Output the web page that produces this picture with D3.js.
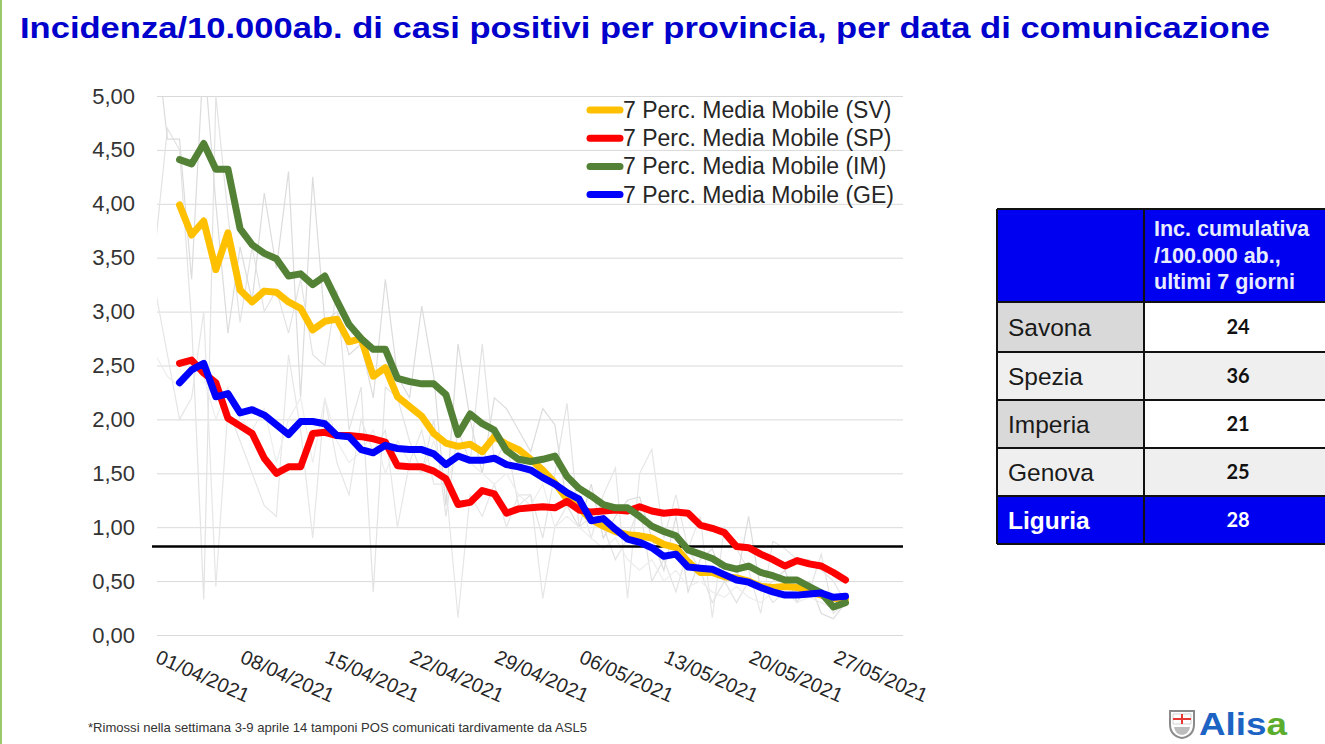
<!DOCTYPE html>
<html>
<head>
<meta charset="utf-8">
<script src="https://cdn.jsdelivr.net/npm/d3@7"></script>
<style>
  body { margin: 0; background: #fff; }
  #chart { width: 1325px; height: 744px; position: relative; overflow: hidden; }
  text { font-family: Arial, "Liberation Sans", sans-serif; }
</style>
</head>
<body>
<div id="chart"></div>
<script>
/* DATI */
const inizioMedie = new Date(2021, 3, 3);   // prima media mobile
const inizioGrezzi = new Date(2021, 3, 1);  // primo dato giornaliero

const mediaSV = [3.99,3.71,3.84,3.39,3.73,3.20,3.09,3.19,3.18,3.09,3.03,2.83,2.91,2.93,2.72,2.75,2.40,2.48,2.21,2.12,
  2.03,1.87,1.78,1.75,1.77,1.70,1.84,1.77,1.72,1.63,1.53,1.41,1.26,1.18,1.07,1.01,0.96,0.93,0.92,0.90,
  0.84,0.81,0.68,0.58,0.58,0.54,0.53,0.50,0.45,0.44,0.45,0.44,0.40,0.37,0.34,0.33];
const mediaSP = [2.52,2.55,2.43,2.34,2.01,1.94,1.87,1.64,1.50,1.56,1.56,1.87,1.88,1.85,1.85,1.84,1.82,1.79,1.57,1.56,
  1.56,1.52,1.45,1.21,1.23,1.34,1.31,1.13,1.17,1.18,1.19,1.18,1.24,1.16,1.14,1.15,1.16,1.15,1.19,1.15,
  1.13,1.14,1.13,1.02,0.99,0.95,0.82,0.81,0.75,0.70,0.64,0.69,0.66,0.64,0.58,0.51];
const mediaIM = [4.41,4.37,4.56,4.32,4.32,3.77,3.62,3.54,3.49,3.33,3.35,3.25,3.33,3.10,2.88,2.75,2.65,2.65,2.38,2.35,
  2.33,2.33,2.23,1.86,2.05,1.96,1.90,1.71,1.63,1.61,1.63,1.66,1.47,1.36,1.29,1.21,1.18,1.18,1.10,1.01,
  0.96,0.92,0.79,0.75,0.71,0.64,0.61,0.64,0.58,0.55,0.51,0.51,0.45,0.39,0.26,0.30];
const mediaGE = [2.34,2.46,2.52,2.21,2.24,2.06,2.09,2.04,1.95,1.86,1.98,1.98,1.96,1.85,1.84,1.72,1.69,1.76,1.73,1.72,
  1.72,1.68,1.58,1.66,1.62,1.62,1.64,1.58,1.56,1.53,1.46,1.40,1.32,1.26,1.06,1.08,0.98,0.89,0.86,0.81,
  0.73,0.75,0.63,0.62,0.61,0.56,0.51,0.49,0.44,0.40,0.37,0.37,0.38,0.39,0.35,0.36];

// dati giornalieri (linee grigie sottili)
const grezzoIM = [5.6,4.6,4.6,3.3,5.4,4.0,2.8,3.6,3.1,4.1,3.4,4.3,2.2,4.25,2.9,3.0,2.6,2.7,2.2,3.3,2.4,2.2,3.05,2.4,1.2,2.7,2.0,1.5,2.2,2.1,
  1.9,1.7,2.1,1.95,1.2,1.0,1.4,0.9,1.1,1.25,1.28,0.9,0.6,1.1,0.4,0.7,0.8,0.5,0.5,1.1,0.4,0.5,0.6,0.3,0.5,0.2,0.15,0.3];
const grezzoSV = [3.6,4.7,4.5,2.9,0.33,5.0,3.9,2.9,3.6,3.0,3.2,2.8,3.3,2.6,2.5,3.2,1.9,2.3,0.4,2.3,2.2,1.8,1.5,2.0,1.1,1.9,1.6,2.7,1.6,1.8,
  1.2,1.3,0.9,1.5,2.15,1.0,1.1,1.0,0.7,0.9,1.2,0.5,0.7,0.4,0.8,0.6,0.3,0.5,0.3,0.5,0.5,0.3,0.4,0.4,0.4,0.75,0.2,0.3];
const grezzoSP = [3.2,2.6,2.0,2.2,3.0,0.45,2.1,1.8,1.5,1.2,1.1,2.6,1.9,0.9,2.2,1.6,1.3,2.0,1.7,1.9,1.0,1.6,1.9,1.4,1.4,0.16,1.3,1.1,1.4,1.0,
  1.3,1.3,0.34,1.0,1.2,1.3,0.9,1.3,1.55,0.34,1.5,1.72,0.9,1.3,0.8,1.1,0.16,1.0,0.8,0.6,0.2,0.87,0.8,0.7,0.7,0.6,0.5,0.3];
const grezzoGE = [2.6,2.4,2.3,2.5,2.4,2.0,2.3,2.0,1.9,2.1,1.6,2.0,2.2,1.6,2.2,1.8,1.6,1.7,1.9,1.5,1.8,1.6,1.5,1.8,1.4,1.7,1.6,1.5,1.4,1.5,
  1.3,1.2,1.4,1.0,1.1,1.0,0.9,0.8,0.9,0.7,0.6,0.7,0.5,0.6,0.45,0.5,0.4,0.35,0.45,0.35,0.3,0.4,0.4,0.3,0.35,0.3,0.25,0.3];

const soglia = 0.82;
const yTicks = [0,0.5,1,1.5,2,2.5,3,3.5,4,4.5,5];
const xTicks = ["01/04/2021","08/04/2021","15/04/2021","22/04/2021","29/04/2021","06/05/2021","13/05/2021","20/05/2021","27/05/2021"];
const legendaNomi = ["7 Perc. Media Mobile (SV)","7 Perc. Media Mobile (SP)","7 Perc. Media Mobile (IM)","7 Perc. Media Mobile (GE)"];
const coloriSerie = ["#ffc000","#ff0000","#538135","#0000ff"];

const province = ["Savona","Spezia","Imperia","Genova","Liguria"];
const incidenza7gg = [24,36,21,25,28];
const intestazione = ["Inc. cumulativa","/100.000 ab.,","ultimi 7 giorni"];

const titolo = "Incidenza/10.000ab. di casi positivi per provincia, per data di comunicazione";
const nota = "*Rimossi nella settimana 3-9 aprile 14 tamponi POS comunicati tardivamente da ASL5";

/* CANVAS */
const width = 1325, height = 744;
const plot = {left: 157, right: 903, top: 96, bottom: 635};

const svg = d3.select("#chart").append("svg")
  .attr("width", width).attr("height", height);

// bordo verde a sinistra
svg.append("rect").attr("x", 0).attr("y", 0).attr("width", 2).attr("height", height).attr("fill", "#9bc86a");

svg.append("text")
  .attr("x", 20).attr("y", 38)
  .attr("font-size", 30).attr("font-weight", "bold")
  .attr("fill", "#0000cc")
  .attr("textLength", 1250).attr("lengthAdjust", "spacingAndGlyphs")
  .text(titolo);

/* SCALE */
const parse = d3.timeParse("%d/%m/%Y");
const xScale = d3.scaleTime()
  .domain([new Date(2021, 3, 1), new Date(2021, 4, 28)])
  .range([155.3, 845.5]);
const yScale = d3.scaleLinear().domain([0, 5]).range([plot.bottom, plot.top]);

/* ASSI */
const yAxis = svg.append("g")
  .attr("transform", `translate(${plot.left},0)`)
  .call(d3.axisLeft(yScale).tickValues(yTicks)
    .tickSize(-(plot.right - plot.left)).tickPadding(22)
    .tickFormat(d => d3.format(".2f")(d).replace(".", ",")));
yAxis.select(".domain").remove();
yAxis.selectAll(".tick line").attr("stroke", "#d9d9d9").attr("stroke-width", 1);
yAxis.selectAll(".tick text").attr("font-size", 22).attr("fill", "#333")
  .attr("font-family", "Arial, 'Liberation Sans', sans-serif");

const xLab = svg.append("g");
xLab.selectAll("text").data(xTicks).enter().append("text")
  .attr("transform", d => `translate(${xScale(parse(d)) - 1},662) rotate(24)`)
  .attr("font-size", 20).attr("fill", "#262626")
  .text(d => d);

/* LINEE */
svg.append("clipPath").attr("id", "area")
  .append("rect").attr("x", plot.left).attr("y", plot.top)
  .attr("width", plot.right - plot.left).attr("height", plot.bottom - plot.top);

const lineaGrezza = d3.line()
  .x((d, i) => xScale(d3.timeDay.offset(inizioGrezzi, i)))
  .y(d => yScale(d));
const lineaMedia = d3.line()
  .x((d, i) => xScale(d3.timeDay.offset(inizioMedie, i)))
  .y(d => yScale(d));

const grigi = svg.append("g").attr("clip-path", "url(#area)");
[[grezzoSV, "#e3e3e3"], [grezzoSP, "#e6e6e6"], [grezzoIM, "#dcdcdc"], [grezzoGE, "#ededed"]].forEach(s => {
  grigi.append("path").datum(s[0])
    .attr("d", lineaGrezza)
    .attr("fill", "none").attr("stroke", s[1]).attr("stroke-width", 1.2);
});

svg.append("line")
  .attr("x1", 152).attr("x2", plot.right)
  .attr("y1", yScale(soglia)).attr("y2", yScale(soglia))
  .attr("stroke", "#000").attr("stroke-width", 2.5);

[mediaSV, mediaSP, mediaIM, mediaGE].forEach((serie, k) => {
  svg.append("path").datum(serie)
    .attr("d", lineaMedia)
    .attr("fill", "none").attr("stroke", coloriSerie[k])
    .attr("stroke-width", 7).attr("stroke-linejoin", "round").attr("stroke-linecap", "round");
});

/* LEGENDA */
const leg = svg.append("g");
legendaNomi.forEach((nome, k) => {
  const yy = 110 + k * 28.2;
  leg.append("line").attr("x1", 590).attr("x2", 620).attr("y1", yy).attr("y2", yy)
    .attr("stroke", coloriSerie[k]).attr("stroke-width", 7).attr("stroke-linecap", "round");
  leg.append("text").attr("x", 623).attr("y", yy + 8)
    .attr("font-size", 23).attr("fill", "#262626").text(nome);
});

/* TABELLA */
const tab = svg.append("g");
const colX = [997, 1144, 1345];
const rowY = [209, 302, 352, 400, 448, 496, 544];
const blu = "#0000f0";
// intestazione
tab.append("rect").attr("x", colX[0]).attr("y", rowY[0]).attr("width", colX[2] - colX[0]).attr("height", rowY[1] - rowY[0]).attr("fill", blu);
intestazione.forEach((t, k) => {
  tab.append("text").attr("x", 1154).attr("y", 236 + k * 26.5)
    .attr("font-size", 21.5).attr("font-weight", "bold").attr("fill", "#e8ecff").text(t);
});
province.forEach((p, k) => {
  const y0 = rowY[k + 1], y1 = rowY[k + 2];
  const ultima = k === province.length - 1;
  const bgLab = ultima ? blu : (k % 2 === 0 ? "#d9d9d9" : "#efefef");
  const bgVal = ultima ? blu : (k % 2 === 0 ? "#ffffff" : "#efefef");
  tab.append("rect").attr("x", colX[0]).attr("y", y0).attr("width", colX[1] - colX[0]).attr("height", y1 - y0).attr("fill", bgLab);
  tab.append("rect").attr("x", colX[1]).attr("y", y0).attr("width", colX[2] - colX[1]).attr("height", y1 - y0).attr("fill", bgVal);
  tab.append("text").attr("x", 1008).attr("y", (y0 + y1) / 2 + 8.5)
    .attr("font-size", 24.5).attr("font-weight", ultima ? "bold" : "normal")
    .attr("fill", ultima ? "#ffffff" : "#1a1a1a").text(p);
  tab.append("text").attr("x", 1238).attr("y", (y0 + y1) / 2 + 7)
    .attr("text-anchor", "middle").attr("font-size", 20).attr("font-weight", "bold")
    .style("font-family", "Lato, 'Open Sans', sans-serif")
    .attr("fill", ultima ? "#ffffff" : "#111").text(incidenza7gg[k]);
});
// bordi
rowY.forEach(yy => tab.append("line").attr("x1", colX[0]).attr("x2", colX[2]).attr("y1", yy).attr("y2", yy).attr("stroke", "#111").attr("stroke-width", 2));
colX.forEach(xx => tab.append("line").attr("x1", xx).attr("x2", xx).attr("y1", rowY[0]).attr("y2", rowY[rowY.length - 1]).attr("stroke", "#111").attr("stroke-width", 2));

/* NOTA */
svg.append("text").attr("x", 88).attr("y", 732)
  .attr("font-size", 13).attr("fill", "#333")
  .attr("textLength", 499).attr("lengthAdjust", "spacingAndGlyphs")
  .text(nota);

/* LOGO */
const logo = svg.append("g").attr("transform", "translate(1169,710)");
logo.append("path").attr("d", "M1,1 H25 V14 Q25,26 13,28 Q1,26 1,14 Z")
  .attr("fill", "#fff").attr("stroke", "#8a8a8a").attr("stroke-width", 2);
logo.append("path").attr("d", "M4,4 H22 V14 H4 Z").attr("fill", "#fff").attr("stroke", "#c9c9c9").attr("stroke-width", 0.8);
logo.append("line").attr("x1", 13).attr("x2", 13).attr("y1", 4).attr("y2", 14).attr("stroke", "#e53935").attr("stroke-width", 2);
logo.append("line").attr("x1", 4).attr("x2", 22).attr("y1", 9).attr("y2", 9).attr("stroke", "#e53935").attr("stroke-width", 2);
logo.append("path").attr("d", "M5,17 H21 Q20,24 13,25 Q6,24 5,17 Z").attr("fill", "#bdbdbd");
const marchio = svg.append("text").attr("x", 1199).attr("y", 735)
  .attr("font-size", 32).attr("font-weight", "bold")
  .attr("textLength", 88).attr("lengthAdjust", "spacingAndGlyphs");
marchio.append("tspan").attr("fill", "#1c63c4").text("Alis");
marchio.append("tspan").attr("fill", "#5cad2d").text("a");
</script>
</body>
</html>
